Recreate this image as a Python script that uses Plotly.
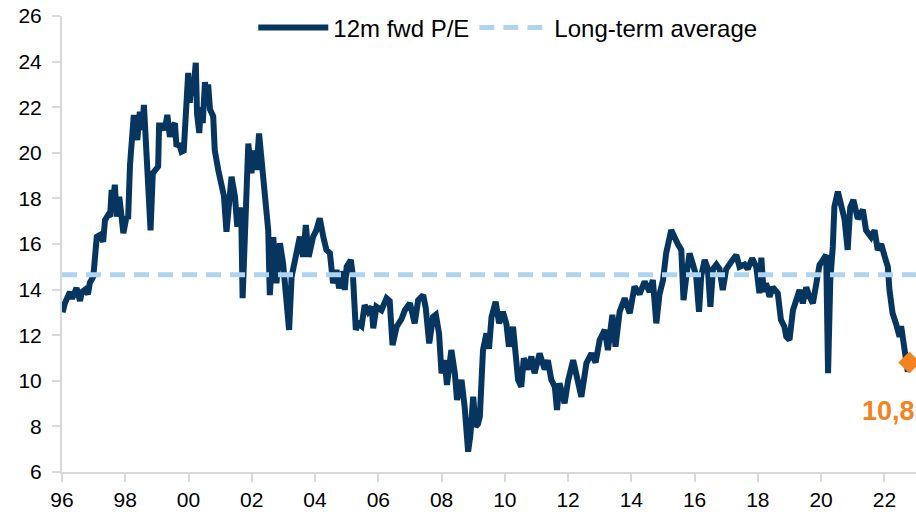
import plotly.graph_objects as go

# ---- data ----
dates = [1996.02, 1996.09, 1996.25, 1996.32, 1996.46, 1996.57, 1996.63, 1996.73, 1996.82, 1996.88, 1996.99,
         1997.04, 1997.10, 1997.20, 1997.30, 1997.36, 1997.46, 1997.52, 1997.57, 1997.61, 1997.67, 1997.73, 1997.81, 1997.86, 1997.94,
         1998.04, 1998.09, 1998.15, 1998.20, 1998.27, 1998.34, 1998.38, 1998.46, 1998.53, 1998.59, 1998.65, 1998.72, 1998.75, 1998.80, 1998.87, 1998.97,
         1999.04, 1999.07, 1999.19, 1999.25, 1999.33, 1999.41, 1999.48, 1999.57, 1999.62, 1999.70, 1999.78, 1999.85, 1999.92, 1999.99,
         2000.04, 2000.10, 2000.14, 2000.20, 2000.23, 2000.27, 2000.34, 2000.39, 2000.45, 2000.52, 2000.58, 2000.62, 2000.68, 2000.78, 2000.83, 2000.94,
         2001.05, 2001.12, 2001.20, 2001.28, 2001.36, 2001.47, 2001.54, 2001.62, 2001.67, 2001.71, 2001.78, 2001.89, 2001.94, 2001.99,
         2002.05, 2002.15, 2002.23, 2002.31, 2002.41, 2002.52, 2002.57, 2002.68, 2002.78, 2002.89, 2002.99,
         2003.08, 2003.18, 2003.26, 2003.42, 2003.52, 2003.62, 2003.71, 2003.80, 2003.94,
         2004.04, 2004.15, 2004.26, 2004.36, 2004.47, 2004.57, 2004.68, 2004.76, 2004.89, 2004.94,
         2005.00, 2005.13, 2005.20, 2005.29, 2005.36, 2005.47, 2005.57, 2005.68, 2005.79, 2005.84, 2005.94,
         2006.10, 2006.26, 2006.36, 2006.45, 2006.58, 2006.73, 2006.84,
         2007.00, 2007.15, 2007.26, 2007.42, 2007.50, 2007.61, 2007.73, 2007.82, 2007.92,
         2008.00, 2008.10, 2008.17, 2008.31, 2008.42, 2008.49, 2008.63, 2008.73, 2008.84, 2008.91,
         2009.00, 2009.08, 2009.15, 2009.21, 2009.26, 2009.31, 2009.42, 2009.50, 2009.58, 2009.71, 2009.82, 2009.94,
         2010.05, 2010.13, 2010.26, 2010.34, 2010.42, 2010.52, 2010.60, 2010.73, 2010.84, 2010.94,
         2011.10, 2011.26, 2011.36, 2011.47, 2011.58, 2011.65, 2011.73, 2011.89,
         2012.00, 2012.16, 2012.31, 2012.42, 2012.58, 2012.74, 2012.87,
         2013.00, 2013.16, 2013.26, 2013.40, 2013.50, 2013.63, 2013.79, 2013.95,
         2014.10, 2014.26, 2014.42, 2014.58, 2014.68, 2014.79, 2014.89,
         2015.00, 2015.10, 2015.26, 2015.37, 2015.47, 2015.58, 2015.65, 2015.74, 2015.84, 2015.95,
         2016.05, 2016.14, 2016.21, 2016.32, 2016.42, 2016.50, 2016.58, 2016.69, 2016.79, 2016.89,
         2017.00, 2017.16, 2017.32, 2017.42, 2017.58, 2017.68, 2017.82, 2017.95,
         2018.05, 2018.11, 2018.18, 2018.26, 2018.37, 2018.47, 2018.63, 2018.73, 2018.84, 2018.90,
         2019.00, 2019.11, 2019.21, 2019.32, 2019.42, 2019.53, 2019.63, 2019.74, 2019.85, 2019.95,
         2020.06, 2020.16, 2020.22, 2020.29, 2020.37, 2020.42, 2020.53, 2020.63, 2020.74, 2020.84, 2020.92,
         2021.02, 2021.16, 2021.32, 2021.42, 2021.58, 2021.69, 2021.79, 2021.90,
         2022.00, 2022.11, 2022.16, 2022.26, 2022.37, 2022.48, 2022.53, 2022.63, 2022.74, 2022.79]

pe = [13.0, 13.4, 13.9, 13.6, 14.07, 13.5, 13.9, 14.0, 13.8, 14.3, 14.57,
      15.44, 16.32, 16.4, 16.1, 17.05, 17.27, 17.2, 18.37, 17.8, 18.6, 17.2, 18.07, 17.5, 16.47,
      17.2, 17.1, 19.46, 20.7, 21.66, 21.0, 20.56, 21.8, 21.0, 22.1, 20.56, 18.2, 17.0, 16.6, 19.1, 19.3,
      19.4, 21.2, 21.2, 21.0, 21.66, 20.7, 21.1, 21.3, 20.27, 20.4, 20.05, 20.1, 22.3, 23.5,
      22.2, 23.2, 22.5, 23.9, 23.95, 21.7, 20.87, 22.0, 21.3, 23.1, 22.4, 23.0, 21.9, 21.6, 20.1, 19.25,
      18.66, 18.1, 16.54, 18.0, 18.95, 18.07, 16.76, 17.6, 17.0, 13.62, 16.3, 20.4, 19.8, 19.1,
      20.1, 19.25, 20.85, 19.7, 17.8, 16.6, 13.76, 16.3, 14.28, 16.03, 15.15,
      13.4, 12.23, 14.57, 15.88, 16.32, 15.44, 16.83, 15.44, 16.32,
      16.6, 17.13, 16.32, 15.74, 15.6, 14.28, 14.86, 14.06, 14.8, 13.98,
      15.0, 15.3, 14.57, 12.23, 12.52, 12.4, 13.32, 13.03, 13.25, 12.3, 13.25,
      13.1, 13.62, 13.5, 11.57, 12.37, 12.7, 13.1,
      13.4, 12.52, 13.54, 13.76, 13.2, 11.64, 12.8, 12.9, 12.08,
      10.33, 10.9, 9.82, 11.35, 10.33, 9.16, 10.04, 8.86, 6.89, 7.6,
      9.3, 7.99, 8.1, 8.43, 10.18, 11.35, 12.08, 11.4, 12.8, 13.47, 12.52, 13.03,
      12.5, 11.5, 12.37, 10.77, 10.04, 9.74, 10.99, 10.5, 11.06, 10.33,
      11.2, 10.5, 10.9, 10.04, 9.75, 8.72, 9.89, 9.01,
      10.0, 10.9, 10.04, 9.3, 10.77, 11.2, 10.8,
      11.79, 12.23, 11.35, 12.89, 11.5, 13.03, 13.62, 12.96,
      14.13, 13.8, 14.35, 13.9, 14.42, 12.52, 13.8,
      14.4, 15.59, 16.61, 16.2, 16.0, 15.74, 13.54, 14.6, 15.59, 15.1,
      14.6, 13.03, 14.6, 15.3, 14.9, 13.25, 14.9, 15.1, 14.9, 13.98,
      14.9, 15.22, 15.52, 15.0, 15.1, 14.9, 15.37, 15.0,
      13.84, 15.4, 13.9, 14.28, 13.69, 14.1, 13.84, 12.67, 12.37, 11.93,
      11.79, 13.1, 13.5, 13.98, 13.4, 14.1, 13.7, 13.4, 14.28, 15.08,
      15.3, 15.52, 10.33, 14.42, 15.88, 17.64, 18.29, 17.6, 17.1, 15.74, 17.6,
      17.93, 17.1, 17.5, 16.6, 16.3, 16.6, 15.74, 16.0,
      15.5, 15.0, 14.0, 12.96, 12.5, 11.93, 12.4, 11.35, 10.4, 10.8]

long_term_average = 14.65
x_range = [1996, 2023]
tick_years = list(range(1996, 2023, 2))
tick_labels = ["96", "98", "00", "02", "04", "06", "08", "10", "12", "14", "16", "18", "20", "22"]
series_names = ["12m fwd P/E", "Long-term average"]

NAVY = "#06365F"
LIGHT = "#AFD4F0"
ORANGE = "#F58220"
AXIS = "#D9D9D9"
FONT = "Liberation Sans, Arial, sans-serif"

fig = go.Figure()

fig.add_trace(go.Scatter(
    x=dates, y=pe, mode="lines", name=series_names[0],
    line=dict(color=NAVY, width=6), showlegend=True,
))

fig.add_trace(go.Scatter(
    x=x_range, y=[long_term_average, long_term_average], mode="lines",
    name=series_names[1], line=dict(color=LIGHT, width=5, dash="15px,9px"),
))

# latest value marker
fig.add_trace(go.Scatter(
    x=[dates[-1]], y=[pe[-1]], mode="markers", showlegend=False,
    marker=dict(symbol="diamond", size=17, color=ORANGE), cliponaxis=False,
))

fig.add_annotation(
    x=dates[-1], y=pe[-1], xref="x", yref="y",
    text="<b>" + f"{pe[-1]:.1f}".replace(".", ",") + "</b>",
    showarrow=False, xanchor="right", yanchor="middle",
    xshift=8, yshift=-48,
    font=dict(family=FONT, size=27, color=ORANGE),
)

fig.update_layout(
    width=916, height=512,
    margin=dict(l=62, r=0, t=16, b=40),
    paper_bgcolor="white", plot_bgcolor="white",
    font=dict(family=FONT, size=21, color="#000000"),
    legend=dict(
        orientation="h", x=0.522, xanchor="center", y=0.974, yanchor="middle",
        font=dict(family=FONT, size=24, color="#000000"),
        bgcolor="rgba(0,0,0,0)", itemwidth=70, traceorder="normal",
    ),
    showlegend=True,
)

fig.update_xaxes(
    range=x_range, tickmode="array", tickvals=tick_years, ticktext=tick_labels,
    showgrid=False, zeroline=False, showline=True, linecolor=AXIS, linewidth=2,
    ticks="outside", ticklen=8, tickwidth=2, tickcolor=AXIS,
    tickfont=dict(family=FONT, size=21, color="#000000"),
)
fig.update_yaxes(
    range=[6, 26], dtick=2, tick0=6,
    showgrid=False, zeroline=False, showline=True, linecolor=AXIS, linewidth=2,
    ticks="outside", ticklen=8, tickwidth=2, tickcolor=AXIS,
    tickfont=dict(family=FONT, size=21, color="#000000"),
    ticklabelstandoff=6,
)

fig.write_html(
    "out.html",
    config={"displayModeBar": False},
    post_script="document.body.style.margin='0';document.body.style.overflow='hidden';",
)
